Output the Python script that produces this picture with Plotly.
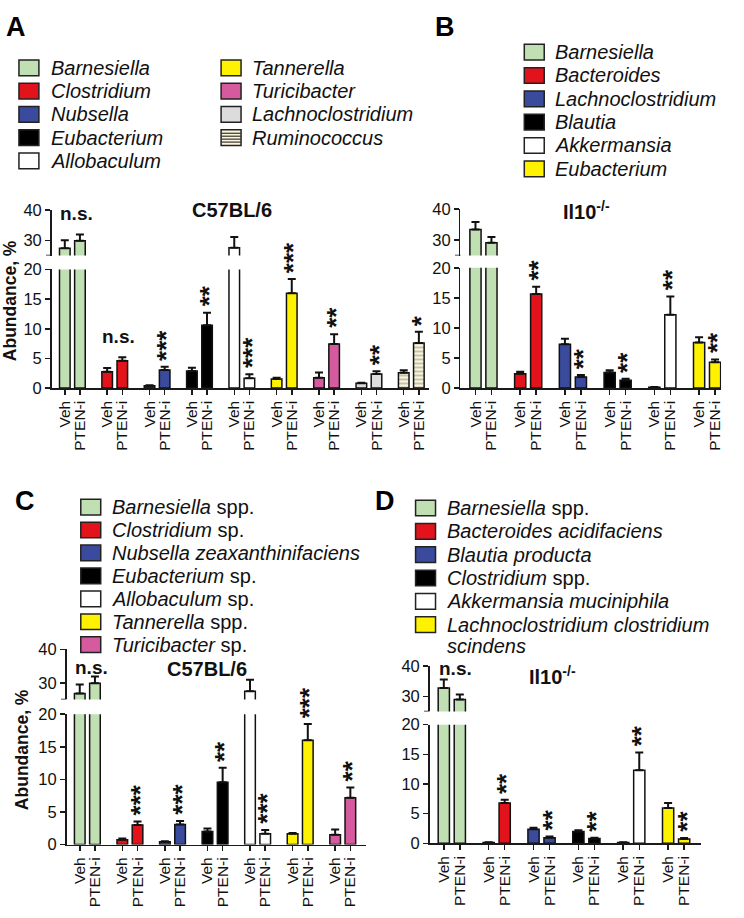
import plotly.graph_objects as go

W, H = 744, 918
FONT = "Arial, 'Liberation Sans', sans-serif"

# ---------------- DATA ----------------
GROUPS = ["Veh", "PTEN-i"]

# Panel A (C57BL/6, genus)
A_species = ["Barnesiella", "Clostridium", "Nubsella", "Eubacterium", "Allobaculum",
             "Tannerella", "Turicibacter", "Lachnoclostridium", "Ruminococcus"]
A_veh = [27.4, 2.75, 0.4, 2.9, 27.6, 1.55, 1.75, 0.8, 2.6]
A_veh_err = [2.6, 0.65, 0.1, 0.55, 3.5, 0.2, 0.9, 0.1, 0.4]
A_pten = [29.9, 4.6, 3.05, 10.6, 1.65, 16.0, 7.45, 2.4, 7.6]
A_pten_err = [2.0, 0.6, 0.55, 2.1, 0.7, 2.4, 1.65, 0.45, 1.9]
A_sig = ["n.s.", "n.s.", "***", "**", "***", "***", "**", "**", "*"]

# Panel B (Il10-/-, genus)
B_species = ["Barnesiella", "Bacteroides", "Lachnoclostridium", "Blautia", "Akkermansia", "Eubacterium"]
B_veh = [33.4, 2.4, 7.3, 2.6, 0.15, 7.57]
B_veh_err = [2.45, 0.3, 0.9, 0.35, 0.02, 0.9]
B_pten = [29.15, 15.64, 1.85, 1.3, 12.2, 4.3]
B_pten_err = [1.8, 1.2, 0.35, 0.25, 3.05, 0.45]
B_sig = ["n.s.", "**", "**", "**", "**", "**"]

# Panel C (C57BL/6, species)
C_species = ["<i>Barnesiella</i> spp.", "<i>Clostridium</i> sp.", "<i>Nubsella zeaxanthinifaciens</i>",
             "<i>Eubacterium</i> sp.", "<i>Allobaculum</i> sp.", "<i>Tannerella</i> spp.",
             "<i>Turicibacter</i> sp."]
C_veh = [26.8, 0.75, 0.45, 2.0, 27.45, 1.65, 1.5]
C_veh_err = [2.7, 0.2, 0.08, 0.45, 3.5, 0.12, 0.8]
C_pten = [29.9, 3.0, 3.1, 9.57, 1.65, 16.0, 7.2]
C_pten_err = [2.0, 0.56, 0.5, 2.2, 0.6, 2.5, 1.55]
C_sig = ["n.s.", "***", "***", "**", "***", "***", "**"]

# Panel D (Il10-/-, species)
D_species = ["<i>Barnesiella</i> spp.", "<i>Bacteroides acidifaciens</i>", "<i>Blautia producta</i>",
             "<i>Clostridium</i> spp.", "<i>Akkermansia muciniphila</i>",
             "<i>Lachnoclostridium clostridium</i>"]
D_veh = [32.7, 0.15, 2.37, 1.98, 0.15, 5.95]
D_veh_err = [2.8, 0.02, 0.27, 0.22, 0.02, 0.83]
D_pten = [28.9, 6.78, 0.94, 0.83, 12.3, 0.72]
D_pten_err = [1.7, 0.55, 0.22, 0.11, 3.0, 0.16]
D_sig = ["n.s.", "**", "**", "**", "**", "**"]

GREEN, RED, BLUE, BLACK, WHITE = "#c0dfb3", "#e3131b", "#3a4a9c", "#000000", "#ffffff"
YELLOW, PINK, LGRAY, CREAM = "#fff200", "#d65a9e", "#dcdcdc", "#fbf6dc"

A_colors = [GREEN, RED, BLUE, BLACK, WHITE, YELLOW, PINK, LGRAY, CREAM]
A_pattern = ["", "", "", "", "", "", "", "", "-"]
B_colors = [GREEN, RED, BLUE, BLACK, WHITE, YELLOW]
C_colors = [GREEN, RED, BLUE, BLACK, WHITE, YELLOW, PINK]
D_colors = [GREEN, RED, BLUE, BLACK, WHITE, YELLOW]

LOWER_TICKS = [0, 5, 10, 15, 20]
UPPER_TICKS = [30, 40]
UPPER_MIN = 25
PITCH = 2.8


def px_x(p):
    return p / W


def px_y(p):
    return 1 - p / H


fig = go.Figure()

panels = [
    dict(species=A_species, colors=A_colors, pattern=A_pattern, veh=A_veh, veh_err=A_veh_err,
         pten=A_pten, pten_err=A_pten_err, sig=A_sig, xa="x", xname="xaxis", ylo="y", yhi="y2",
         ylo_name="yaxis", yhi_name="yaxis2",
         xdom=(51.7, 430), ylo_dom=(386.7, 265.7), yhi_dom=(251.5, 205), xr=(-0.875, 24.06),
         title="C57BL/6", title_pos=(233, 205), ns_y=38.7),
    dict(species=B_species, colors=B_colors, pattern=None, veh=B_veh, veh_err=B_veh_err,
         pten=B_pten, pten_err=B_pten_err, sig=B_sig, xa="x2", xname="xaxis2", ylo="y3", yhi="y4",
         ylo_name="yaxis3", yhi_name="yaxis4",
         xdom=(461.7, 723), ylo_dom=(386.7, 264), yhi_dom=(251.5, 204), xr=(-0.94, 15.375),
         title="Il10<sup>-/-</sup>", title_pos=(588, 206), ns_y=40.7),
    dict(species=C_species, colors=C_colors, pattern=None, veh=C_veh, veh_err=C_veh_err,
         pten=C_pten, pten_err=C_pten_err, sig=C_sig, xa="x3", xname="xaxis3", ylo="y5", yhi="y6",
         ylo_name="yaxis5", yhi_name="yaxis6",
         xdom=(66.7, 367), ylo_dom=(852.3, 719.3), yhi_dom=(704.3, 653.3), xr=(-0.87, 18.83),
         title="C57BL/6", title_pos=(207.5, 673), ns_y=34.6),
    dict(species=D_species, colors=D_colors, pattern=None, veh=D_veh, veh_err=D_veh_err,
         pten=D_pten, pten_err=D_pten_err, sig=D_sig, xa="x4", xname="xaxis4", ylo="y7", yhi="y8",
         ylo_name="yaxis7", yhi_name="yaxis8",
         xdom=(430.7, 703), ylo_dom=(851, 730), yhi_dom=(716.5, 670), xr=(-0.89, 16.06),
         title="Il10<sup>-/-</sup>", title_pos=(554, 680), ns_y=39.2),
]

annotations = []
shapes = []
LINEC = "#1a1a1a"


def axis_style(size):
    return dict(showline=True, linecolor=LINEC, linewidth=1.5, ticks="outside",
                ticklen=5, tickwidth=1.5, tickcolor=LINEC, showgrid=False, zeroline=False,
                tickfont=dict(family=FONT, size=size, color="#111"))


for p in panels:
    n = len(p["veh"])
    xs, ys, es, cols, pats, labels = [], [], [], [], [], []
    for i in range(n):
        xs += [i * PITCH, i * PITCH + 1]
        ys += [p["veh"][i], p["pten"][i]]
        es += [p["veh_err"][i], p["pten_err"][i]]
        cols += [p["colors"][i], p["colors"][i]]
        pt = p["pattern"][i] if p["pattern"] else ""
        pats += [pt, pt]
        labels += GROUPS
    for ya in (p["ylo"], p["yhi"]):
        fig.add_trace(go.Bar(
            x=xs, y=ys, xaxis=p["xa"], yaxis=ya, width=0.7,
            marker=dict(color=cols, line=dict(color="#111", width=1.5),
                        pattern=dict(shape=pats, fgcolor="#222", bgcolor=cols, size=4, solidity=0.3)),
            error_y=dict(type="data", array=es, arrayminus=[0] * len(es), symmetric=False,
                         color="#111", thickness=2, width=4),
            showlegend=False, hoverinfo="skip"))

    fig.layout[p["xname"]] = dict(
        domain=[px_x(p["xdom"][0]), px_x(p["xdom"][1])], anchor=p["ylo"], range=list(p["xr"]),
        tickmode="array", tickvals=xs, ticktext=labels, tickangle=-90, **axis_style(15.5))
    fig.layout[p["ylo_name"]] = dict(
        domain=[px_y(p["ylo_dom"][0]), px_y(p["ylo_dom"][1])], anchor=p["xa"], range=[0, 20],
        tickmode="array", tickvals=LOWER_TICKS, **axis_style(16.5))
    fig.layout[p["yhi_name"]] = dict(
        domain=[px_y(p["yhi_dom"][0]), px_y(p["yhi_dom"][1])], anchor=p["xa"], range=[UPPER_MIN, 40],
        tickmode="array", tickvals=UPPER_TICKS, **axis_style(16.5))
    # small end tick at the bottom of the upper (broken) segment
    shapes.append(dict(type="line", xref="%s domain" % p["xa"], yref=p["yhi"], xsizemode="pixel",
                       xanchor=0, x0=-5.5, x1=0, y0=UPPER_MIN, y1=UPPER_MIN,
                       line=dict(color=LINEC, width=1.5)))

    # panel title
    annotations.append(dict(xref="paper", yref="paper", x=px_x(p["title_pos"][0]), y=px_y(p["title_pos"][1]),
                            text="<b>%s</b>" % p["title"], showarrow=False,
                            font=dict(family=FONT, size=20, color="#111"),
                            xanchor="center", yanchor="middle"))
    # significance marks
    for i in range(n):
        s = p["sig"][i]
        xp = i * PITCH + 1
        top = p["pten"][i] + p["pten_err"][i]
        if s == "n.s.":
            if i == 0:
                annotations.append(dict(xref=p["xa"], yref=p["yhi"], x=i * PITCH + 0.5, y=p["ns_y"],
                                        text="<b>n.s.</b>", showarrow=False, xshift=4,
                                        font=dict(family=FONT, size=19, color="#111"),
                                        xanchor="center", yanchor="middle"))
            else:
                annotations.append(dict(xref=p["xa"], yref=p["ylo"], x=i * PITCH + 0.5, y=top,
                                        text="<b>n.s.</b>", showarrow=False, xshift=4, yshift=8,
                                        font=dict(family=FONT, size=19, color="#111"),
                                        xanchor="center", yanchor="bottom"))
        else:
            annotations.append(dict(xref=p["xa"], yref=p["ylo"], x=xp, y=top, text="<b>%s</b>" % s,
                                    showarrow=False, textangle=-90, xshift=2, yshift=4,
                                    font=dict(family=FONT, size=26, color="#111"),
                                    xanchor="center", yanchor="bottom"))

# Y-axis titles (A and C)
for (xc, yc) in [(10, 297), (22, 755)]:
    annotations.append(dict(xref="paper", yref="paper", x=px_x(xc), y=px_y(yc), text="<b>Abundance, %</b>",
                            textangle=-90, showarrow=False, font=dict(family=FONT, size=17.5, color="#111"),
                            xanchor="center", yanchor="middle"))

# Panel letters
for (letter, xc, yc) in [("A", 16.5, 18), ("B", 446, 18), ("C", 25, 502), ("D", 386, 502)]:
    annotations.append(dict(xref="paper", yref="paper", x=px_x(xc), y=px_y(yc), text="<b>%s</b>" % letter,
                            showarrow=False, font=dict(family=FONT, size=27, color="#000"),
                            xanchor="center", yanchor="middle"))

# Legends
A_legend_labels = ["<i>%s</i>" % s for s in A_species]
B_legend_labels = ["<i>%s</i>" % s for s in B_species]
legend_specs = [
    # (labels, colors, patterns, square x, text x, first row y, pitch)
    (A_legend_labels[:5], A_colors[:5], A_pattern[:5], 19, 50.7, 60, 23.75),
    (A_legend_labels[5:], A_colors[5:], A_pattern[5:], 221.7, 253, 60, 23.75),
    (B_legend_labels, B_colors, [""] * 6, 525.7, 556.7, 44, 23.8),
    (C_species, C_colors, [""] * 7, 81, 112.7, 508, 23.4),
    (D_species, D_colors, [""] * 6, 416.7, 448.3, 509, 23.8),
]
LEG_FONT = 20
for labels, colors, pats, sqx, tx, y0, pitch in legend_specs:
    for k, (lab, col, pat) in enumerate(zip(labels, colors, pats)):
        yc = y0 + k * pitch
        shapes.append(dict(type="rect", xref="paper", yref="paper", x0=px_x(sqx), x1=px_x(sqx + 20),
                           y0=px_y(yc + 8), y1=px_y(yc - 8), fillcolor=col,
                           line=dict(color="#222", width=1.5), layer="above"))
        if pat == "-":
            for dy in (-4.5, -1.5, 1.5, 4.5):
                shapes.append(dict(type="line", xref="paper", yref="paper", x0=px_x(sqx), x1=px_x(sqx + 20),
                                   y0=px_y(yc + dy), y1=px_y(yc + dy), line=dict(color="#333", width=1.2),
                                   layer="above"))
        annotations.append(dict(xref="paper", yref="paper", x=px_x(tx - 2), y=px_y(yc), text=lab,
                                showarrow=False, font=dict(family=FONT, size=LEG_FONT, color="#111"),
                                xanchor="left", yanchor="middle"))
# continuation line of last D legend entry
annotations.append(dict(xref="paper", yref="paper", x=px_x(448.3 - 2), y=px_y(509 + 6 * 23.8 - 2),
                        text="<i>scindens</i>", showarrow=False,
                        font=dict(family=FONT, size=LEG_FONT, color="#111"),
                        xanchor="left", yanchor="middle"))

fig.update_layout(width=W, height=H, margin=dict(l=0, r=0, t=0, b=0),
                  paper_bgcolor="white", plot_bgcolor="white", showlegend=False,
                  bargap=0, annotations=annotations, shapes=shapes,
                  font=dict(family=FONT, color="#111"))

fig.write_html("out.html", config={"displayModeBar": False, "staticPlot": True},
               post_script="document.body.style.margin='0';")
